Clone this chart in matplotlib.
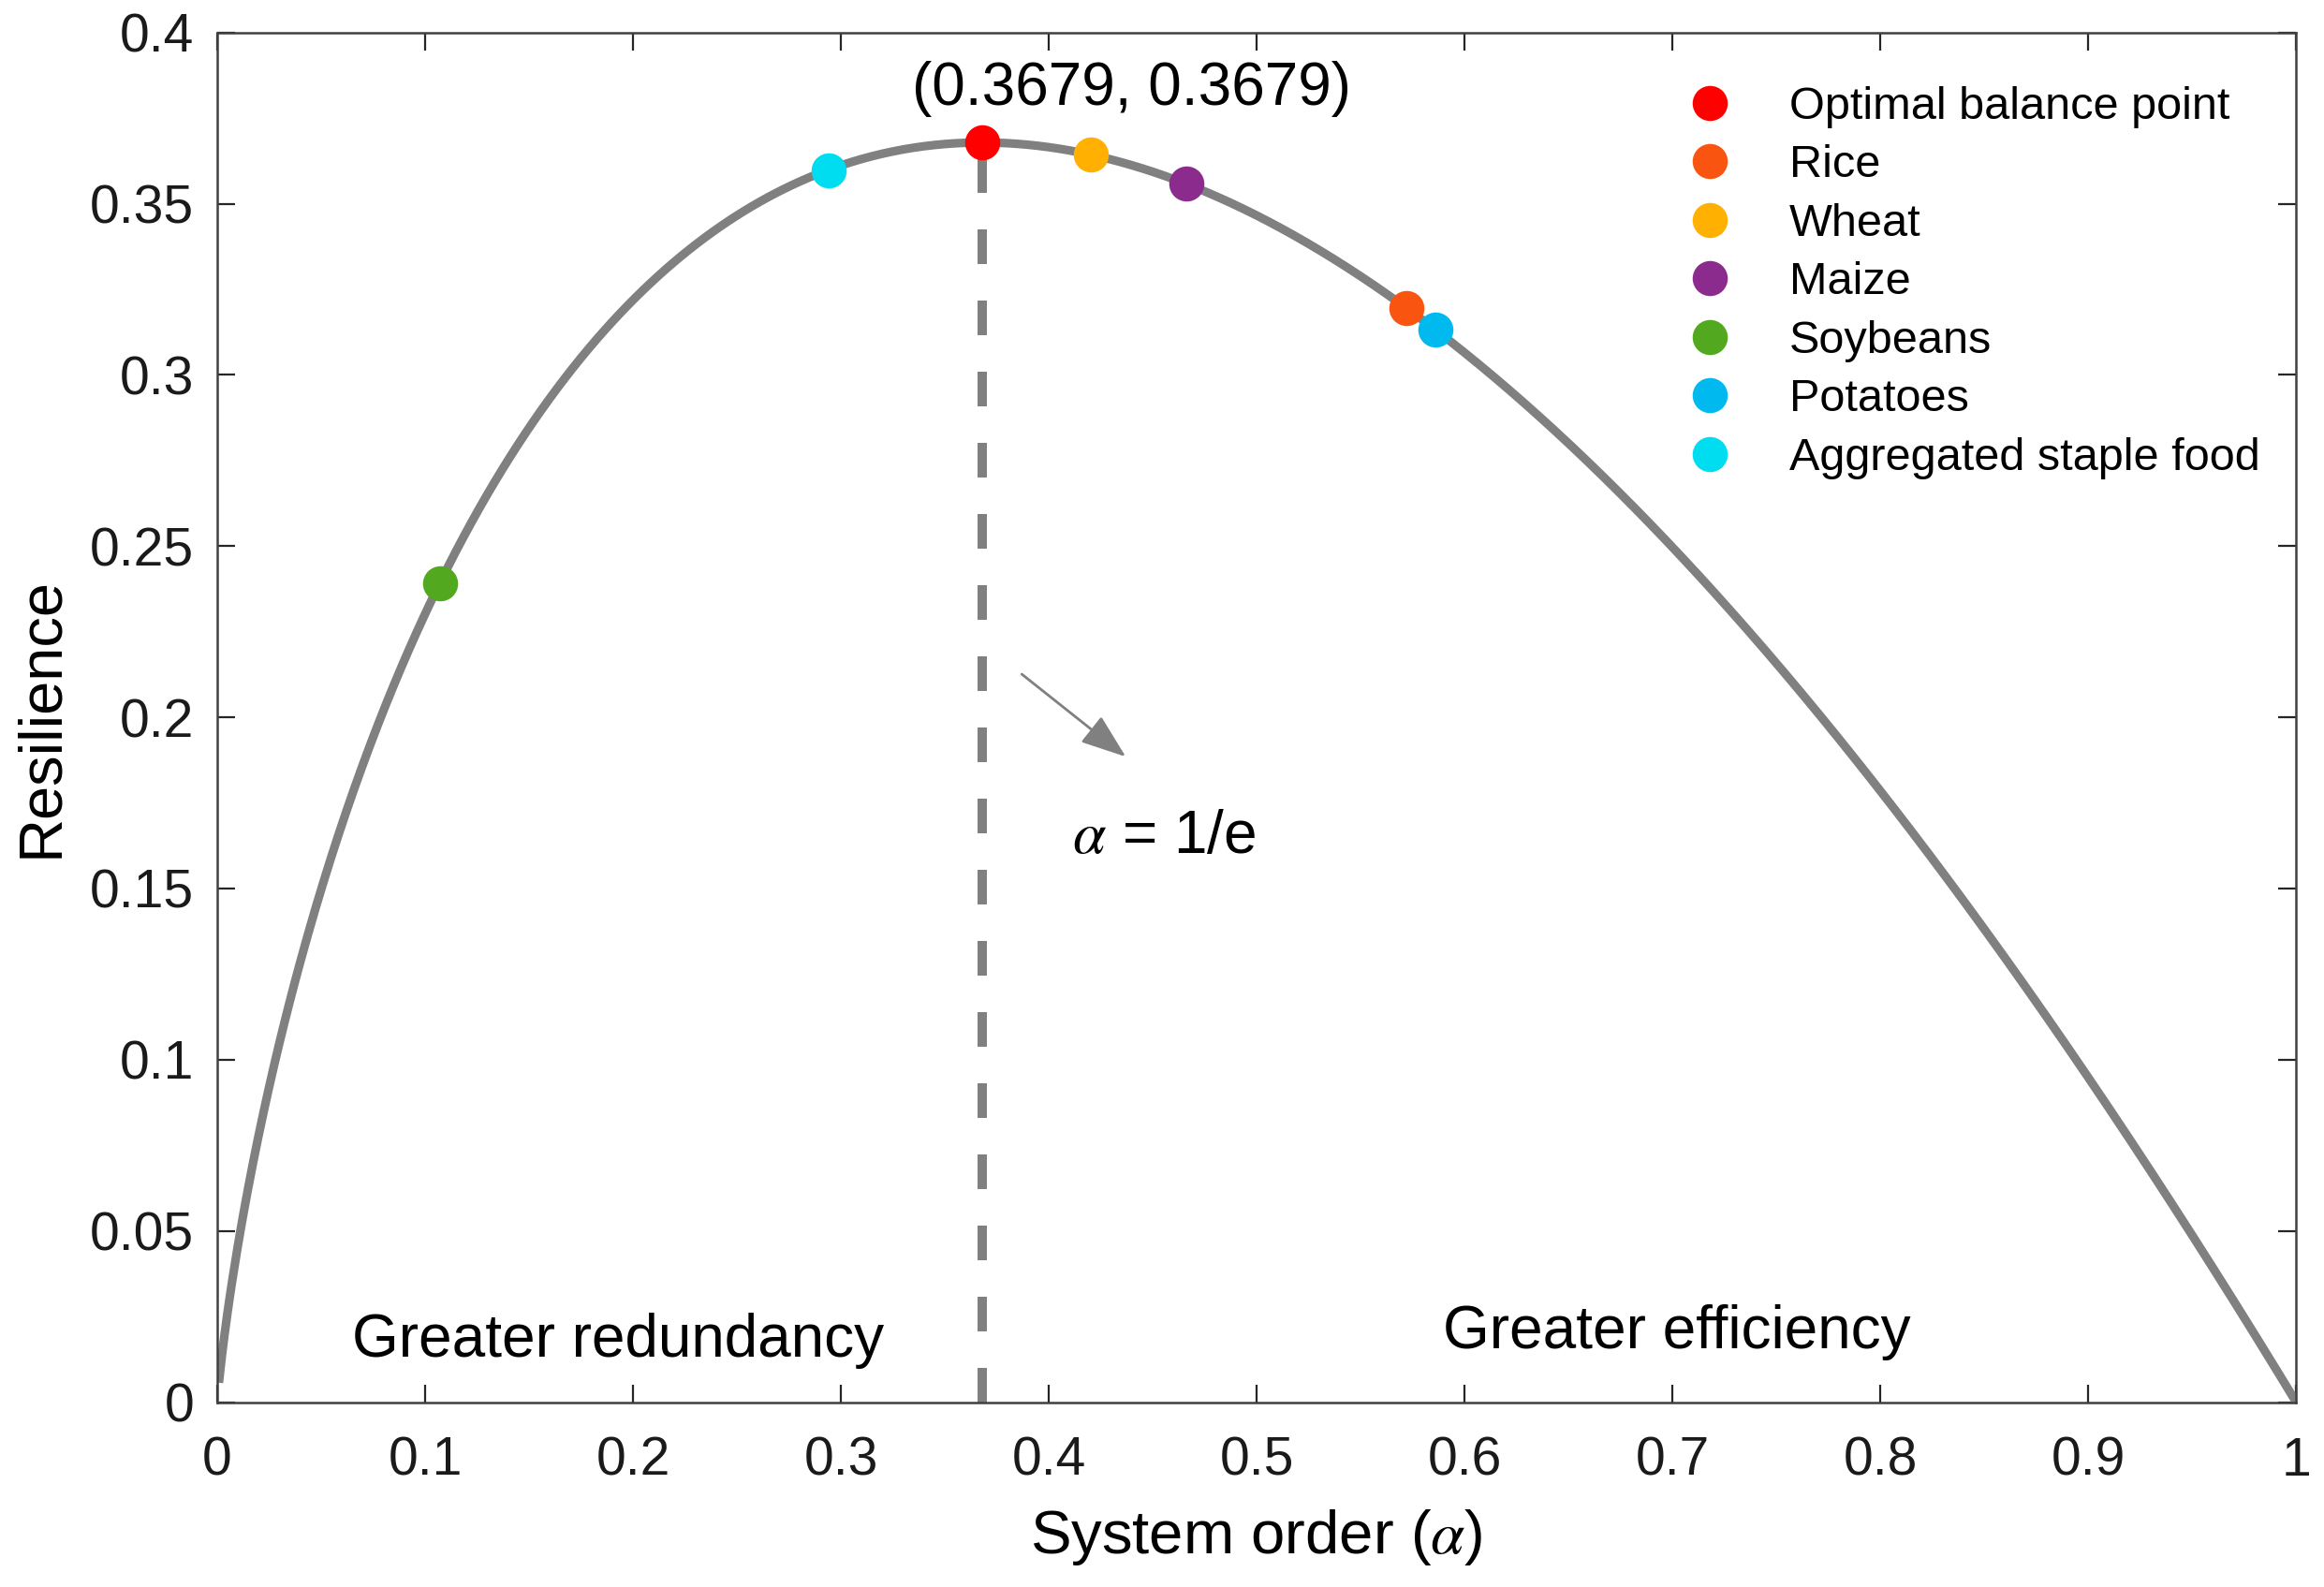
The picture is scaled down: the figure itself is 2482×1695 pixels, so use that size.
import numpy as np
import matplotlib
matplotlib.use("Agg")
import matplotlib.pyplot as plt

plt.rcParams['font.family'] = ['Liberation Sans', 'DejaVu Sans']
plt.rcParams['mathtext.fontset'] = 'stix'

# theoretical curve R = -alpha * ln(alpha)
alpha = np.linspace(0.001, 1.0, 800)
resilience = -alpha * np.log(alpha)

# points
names = ['Optimal balance point', 'Rice', 'Wheat', 'Maize', 'Soybeans',
         'Potatoes', 'Aggregated staple food']
x_pts = [0.3679, 0.572, 0.420, 0.466, 0.107, 0.586, 0.294]
y_pts = [0.3679, 0.3195, 0.3643, 0.3558, 0.2392, 0.3133, 0.3597]
colors = ['#FF0000', '#FA5510', '#FFB000', '#8B2B8E', '#52A81E', '#00B9EE', '#00DCF0']

x_ticks = [0, 0.1, 0.2, 0.3, 0.4, 0.5, 0.6, 0.7, 0.8, 0.9, 1]
x_ticklabels = ['0', '0.1', '0.2', '0.3', '0.4', '0.5', '0.6', '0.7', '0.8', '0.9', '1']
y_ticks = [0, 0.05, 0.1, 0.15, 0.2, 0.25, 0.3, 0.35, 0.4]
y_ticklabels = ['0', '0.05', '0.1', '0.15', '0.2', '0.25', '0.3', '0.35', '0.4']

fig = plt.figure(figsize=(12.41, 8.475), dpi=200)
ax = fig.add_axes([0.0935, 0.1165, 0.8945, 0.863])

ax.plot(alpha, resilience, color='#808080', lw=3.3, zorder=2)
ax.plot([x_pts[0], x_pts[0]], [0, y_pts[0]], color='#808080', lw=3.6,
        dashes=(3.7, 3.9), zorder=1)

for xp, yp, c, n in zip(x_pts, y_pts, colors, names):
    ax.plot(xp, yp, 'o', color=c, markersize=13.5, markeredgewidth=0, label=n, zorder=3)

ax.text(0.44, 0.3835, '(0.3679, 0.3679)', fontsize=23, ha='center', va='center')
ax.annotate('', xy=(0.437, 0.1885), xytext=(0.387, 0.2126),
            arrowprops=dict(arrowstyle='-|>,head_length=1.5,head_width=0.55',
                            color='#808080', lw=1.0, shrinkA=0, shrinkB=0))
ax.text(0.411, 0.165, r'$\alpha$ = 1/e', fontsize=23, ha='left', va='center')
ax.text(0.193, 0.018, 'Greater redundancy', fontsize=23, ha='center', va='center')
ax.text(0.702, 0.0205, 'Greater efficiency', fontsize=23, ha='center', va='center')

ax.set_xlim(0, 1)
ax.set_ylim(0, 0.4)
ax.set_xticks(x_ticks)
ax.set_xticklabels(x_ticklabels)
ax.set_yticks(y_ticks)
ax.set_yticklabels(y_ticklabels)
ax.tick_params(direction='in', length=7, width=0.8, colors='#262626',
               labelcolor='#1a1a1a', labelsize=20.5, top=True, right=True)
ax.tick_params(axis='x', pad=13)
ax.tick_params(axis='y', pad=9)
for s in ax.spines.values():
    s.set_color('#404040')
    s.set_linewidth(0.9)

ax.set_xlabel(r'System order ($\alpha$)', fontsize=23.5, labelpad=8)
ax.set_ylabel('Resilience', fontsize=23.4, labelpad=8)

ax.legend(loc='upper right', frameon=False, fontsize=17.5, handlelength=0.6,
          handletextpad=1.45, labelspacing=0.36, borderaxespad=0.2,
          bbox_to_anchor=(0.9957, 0.981))

fig.savefig('out.png', dpi=200)
